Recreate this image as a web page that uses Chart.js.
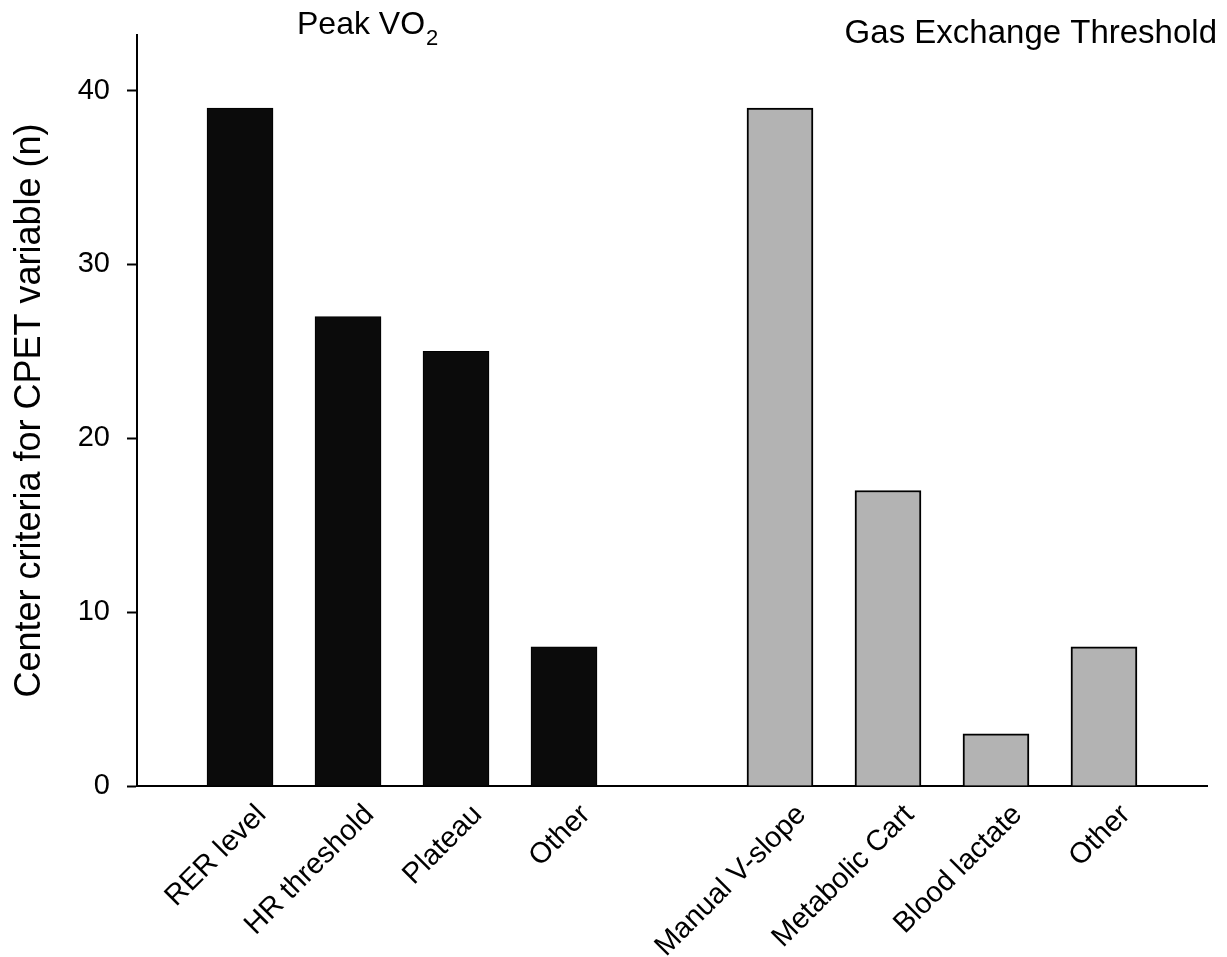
<!DOCTYPE html>
<html>
<head>
<meta charset="utf-8">
<script src="https://cdn.jsdelivr.net/npm/chart.js@4.4.0/dist/chart.umd.min.js"></script>
<style>
  html, body { margin: 0; padding: 0; background: #fff; }
  #wrap { width: 1227px; height: 957px; }
</style>
</head>
<body>
<div id="wrap"><canvas id="cpetChart" width="1227" height="957"></canvas></div>
<script>
// category labels (slot 4 is the empty gap between the two groups)
const categories = ['RER level', 'HR threshold', 'Plateau', 'Other', '', 'Manual V-slope', 'Metabolic Cart', 'Blood lactate', 'Other'];
const peakSlots = [0, 1, 2, 3];
const peakValues = [39, 27, 25, 8];
const getSlots = [5, 6, 7, 8];
const getValues = [39, 17, 3, 8];
const yTicks = [0, 10, 20, 30, 40];

const FONT = '"Liberation Sans", Arial, sans-serif';

// draws the two group headings above the plot
const groupTitles = {
    id: 'groupTitles',
    afterDraw(chart) {
        const ctx = chart.ctx;
        ctx.save();
        ctx.fillStyle = '#000';
        ctx.textBaseline = 'alphabetic';
        ctx.font = '32px ' + FONT;
        const main = 'Peak VO';
        ctx.textAlign = 'left';
        ctx.fillText(main, 297, 34);
        const w = ctx.measureText(main).width;
        ctx.font = '22px ' + FONT;
        ctx.fillText('2', 297 + w + 1, 45);
        ctx.font = '33px ' + FONT;
        ctx.textAlign = 'right';
        ctx.fillText('Gas Exchange Threshold', 1217, 43);
        ctx.restore();
    }
};

const ctx = document.getElementById('cpetChart').getContext('2d');
new Chart(ctx, {
    type: 'bar',
    data: {
        datasets: [{
            label: 'Peak VO2',
            data: peakSlots.map((s, i) => ({ x: s, y: peakValues[i] })),
            backgroundColor: '#0b0b0b',
            borderColor: '#000',
            borderWidth: 1,
            barThickness: 66,
            grouped: false
        }, {
            label: 'Gas Exchange Threshold',
            data: getSlots.map((s, i) => ({ x: s, y: getValues[i] })),
            backgroundColor: '#b3b3b3',
            borderColor: '#000',
            borderWidth: 2,
            barThickness: 66,
            grouped: false
        }]
    },
    options: {
        responsive: false,
        animation: false,
        layout: { padding: { top: 35, right: 20, left: 0, bottom: 0 } },
        plugins: {
            legend: { display: false },
            tooltip: { enabled: false }
        },
        scales: {
            x: {
                type: 'linear',
                offset: false,
                min: -0.954,
                max: 8.954,
                // labels sit a little right of the bar centres, as in the original
                afterBuildTicks: (scale) => {
                    scale.ticks = categories.map((_, i) => ({ value: i + 0.2 }));
                },
                afterFit: (scale) => { scale.height = 171; },
                grid: { display: false },
                border: { display: true, color: '#000', width: 2 },
                ticks: {
                    autoSkip: false,
                    minRotation: 45,
                    maxRotation: 45,
                    padding: 4,
                    color: '#000',
                    font: { family: FONT, size: 29 },
                    callback: (v) => categories[Math.round(v - 0.2)] || ''
                }
            },
            y: {
                min: 0,
                max: 43.2,
                afterBuildTicks: (scale) => {
                    scale.ticks = yTicks.map(v => ({ value: v }));
                },
                afterFit: (scale) => { scale.width = 137; },
                grid: {
                    drawOnChartArea: false,
                    drawTicks: true,
                    tickLength: 10,
                    tickWidth: 2,
                    color: '#000'
                },
                border: { display: true, color: '#000', width: 2 },
                ticks: {
                    padding: 17,
                    color: '#000',
                    font: { family: FONT, size: 29 }
                },
                title: {
                    display: true,
                    text: 'Center criteria for CPET variable (n)',
                    color: '#000',
                    font: { family: FONT, size: 36 },
                    padding: { top: 8, bottom: 8 }
                }
            }
        }
    },
    plugins: [groupTitles]
});
</script>
</body>
</html>
